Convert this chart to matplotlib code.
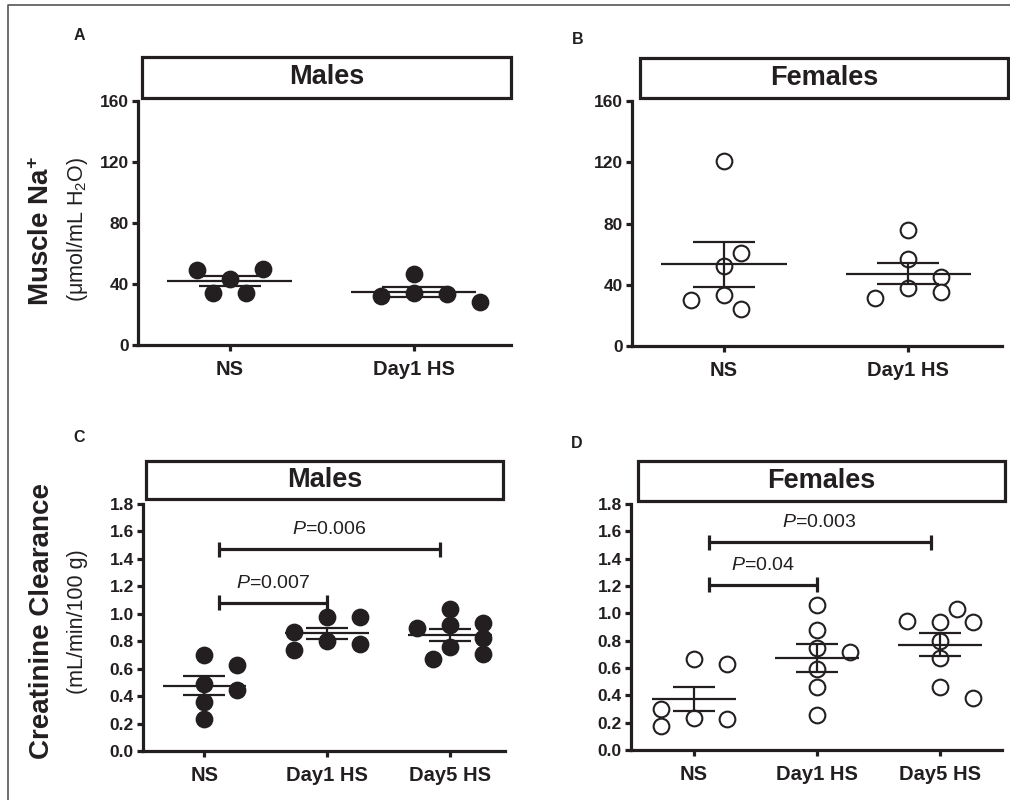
import numpy as np
import matplotlib
matplotlib.use("Agg")
import matplotlib.pyplot as plt
from matplotlib.patches import Rectangle
from matplotlib.lines import Line2D

plt.rcParams['font.family'] = ['Liberation Sans', 'DejaVu Sans']
plt.rcParams['mathtext.fontset'] = 'custom'
plt.rcParams['mathtext.rm'] = 'Liberation Sans'
plt.rcParams['mathtext.it'] = 'Liberation Sans:italic'
plt.rcParams['mathtext.bf'] = 'Liberation Sans:bold'

INK = '#231f20'

# muscle Na+ (umol/mL H2O), one value per animal
na_groups = ['NS', 'Day1 HS']
na_males = [[43, 50, 49, 34, 34],
            [46.5, 34, 33.4, 32, 28]]
na_females = [[52, 61, 33, 24, 30, 121],
              [57, 76, 38, 45, 35.5, 31.4]]

# creatinine clearance (mL/min/100 g)
cr_groups = ['NS', 'Day1 HS', 'Day5 HS']
cr_males = [[0.49, 0.443, 0.70, 0.625, 0.358, 0.236],
            [0.803, 0.783, 0.869, 0.735, 0.978, 0.978],
            [0.917, 0.934, 0.893, 0.759, 0.82, 0.71, 0.674, 1.032]]
cr_females = [[0.232, 0.227, 0.298, 0.178, 0.666, 0.627],
              [1.061, 0.878, 0.59, 0.459, 0.256, 0.749, 0.72],
              [0.80, 0.671, 0.939, 0.939, 0.944, 1.029, 0.459, 0.383]]
cr_males_p = [(0, 1, 1.08, '0.007'), (0, 2, 1.47, '0.006')]
cr_females_p = [(0, 1, 1.21, '0.04'), (0, 2, 1.52, '0.003')]

W, H = 1010, 800
fig = plt.figure(figsize=(W / 100, H / 100), dpi=100)


def px_axes(x0, top, x1, bottom):
    return fig.add_axes([x0 / W, 1 - bottom / H, (x1 - x0) / W, (bottom - top) / H])


def title_box(x0, top, x1, bottom, label):
    fig.add_artist(Rectangle((x0 / W, 1 - bottom / H), (x1 - x0) / W, (bottom - top) / H,
                             transform=fig.transFigure, fill=False, lw=2.3, ec=INK))
    fig.text((x0 + x1) / 2 / W, 1 - (top + bottom) / 2 / H, label, ha='center', va='center',
             fontsize=19.5, fontweight='bold', color=INK)


def swarm(ax, values, center, step=16.5, wx=27.0, wy=14.5):
    # greedy dot layout on a pixel grid: no two dots inside a wx by wy ellipse
    (ax0, ay0), (ax1, ay1) = ax.transData.transform([(0, 0), (1, 1)])
    sx, sy = ax1 - ax0, ay1 - ay0
    order = [0]
    for k in range(1, 8):
        order += [k, -k]
    placed = []
    xs = []
    for v in values:
        yp = v * sy
        for k in order:
            xp = k * step
            if all(((xp - a) / wx) ** 2 + ((yp - b) / wy) ** 2 >= 0.999 for a, b in placed):
                break
        placed.append((xp, yp))
        xs.append(center + xp / sx)
    return xs


def style(ax, groups, xlim, ylim, yticks, fmt):
    ax.set_xlim(*xlim)
    ax.set_ylim(*ylim)
    ax.set_xticks(range(len(groups)))
    ax.set_xticklabels(groups)
    ax.set_yticks(yticks)
    ax.set_yticklabels([fmt.format(t) for t in yticks])
    for s in ['top', 'right']:
        ax.spines[s].set_visible(False)
    for s in ['left', 'bottom']:
        ax.spines[s].set_linewidth(2.3)
        ax.spines[s].set_color(INK)
    ax.tick_params(direction='out', length=4.5, width=2.3, color=INK, labelcolor=INK)
    ax.tick_params(axis='x', pad=6, labelsize=14.5)
    ax.tick_params(axis='y', pad=2, labelsize=12.5)
    for lab in ax.get_xticklabels() + ax.get_yticklabels():
        lab.set_fontweight('bold')
    ax.patch.set_visible(False)


def scatter_panel(ax, data, filled):
    for i, vals in enumerate(data):
        vals = np.asarray(vals, float)
        xs = swarm(ax, vals, i)
        ax.plot(xs, vals, 'o', ms=11.3, mfc=INK if filled else 'white', mec=INK,
                mew=1.5, clip_on=False, zorder=3, ls='none')
        m = vals.mean()
        se = vals.std(ddof=1) / np.sqrt(len(vals))
        ax.hlines(m, i - 0.34, i + 0.34, color=INK, lw=1.6, zorder=4)
        ax.hlines([m - se, m + se], i - 0.17, i + 0.17, color=INK, lw=1.6, zorder=4)
        ax.vlines(i, m - se, m + se, color=INK, lw=1.6, zorder=4)


def brackets(ax, comps):
    for i, j, y, p in comps:
        x0 = i + 0.12
        x1 = j - (j - 1) * 0.08
        ax.plot([x0, x1], [y, y], color=INK, lw=2.3, solid_capstyle='butt')
        ax.vlines([x0, x1], y - 0.055, y + 0.055, color=INK, lw=2.3)
        ax.text((x0 + x1) / 2, y + 0.08, r'$\it{P}$=' + p, ha='center', va='bottom',
                fontsize=14, color=INK)


# A
axA = px_axes(138, 101, 511, 345)
style(axA, na_groups, (-0.5, 1.53), (0, 160), [0, 40, 80, 120, 160], '{:.0f}')
scatter_panel(axA, na_males, True)
title_box(142, 57, 511, 98, 'Males')

# B
axB = px_axes(632, 101, 1002, 346)
style(axB, na_groups, (-0.5, 1.51), (0, 160), [0, 40, 80, 120, 160], '{:.0f}')
scatter_panel(axB, na_females, False)
title_box(640, 58, 1008, 98, 'Females')

# C
cr_ticks = np.round(np.arange(0, 1.81, 0.2), 1)
axC = px_axes(143, 504, 505, 751)
style(axC, cr_groups, (-0.5, 2.45), (0, 1.8), cr_ticks, '{:.1f}')
scatter_panel(axC, cr_males, True)
brackets(axC, cr_males_p)
title_box(146, 461, 503, 499, 'Males')

# D
axD = px_axes(631, 504, 1002, 750)
style(axD, cr_groups, (-0.51, 2.5), (0, 1.8), cr_ticks, '{:.1f}')
scatter_panel(axD, cr_females, False)
brackets(axD, cr_females_p)
title_box(638, 461, 1005, 501, 'Females')

# y labels
fig.text(42 / W, 1 - 231 / H, r'Muscle Na$^{\mathbf{+}}$', rotation=90, ha='center', va='center',
         fontsize=20, fontweight='bold', color=INK)
fig.text(77 / W, 1 - 229 / H, r'(μmol/mL H$_{2}$O)', rotation=90, ha='center', va='center',
         fontsize=15.5, color=INK)
fig.text(42 / W, 1 - 621 / H, 'Creatinine Clearance', rotation=90, ha='center', va='center',
         fontsize=20, fontweight='bold', color=INK)
fig.text(77 / W, 1 - 622 / H, '(mL/min/100 g)', rotation=90, ha='center', va='center',
         fontsize=15.5, color=INK)

# panel letters
for lx, ly, t in [(79, 35, 'A'), (578, 40, 'B'), (79, 438, 'C'), (577, 443, 'D')]:
    fig.text(lx / W, 1 - ly / H, t, ha='center', va='center', fontsize=11.5,
             fontweight='bold', color=INK)

# outer frame (only its left and top edges fall inside the picture)
fig.add_artist(Line2D([8 / W, 8 / W, 1], [0, 1 - 5 / H, 1 - 5 / H], transform=fig.transFigure,
                      color='#555555', lw=1.2))

fig.savefig('out.png', dpi=100)
